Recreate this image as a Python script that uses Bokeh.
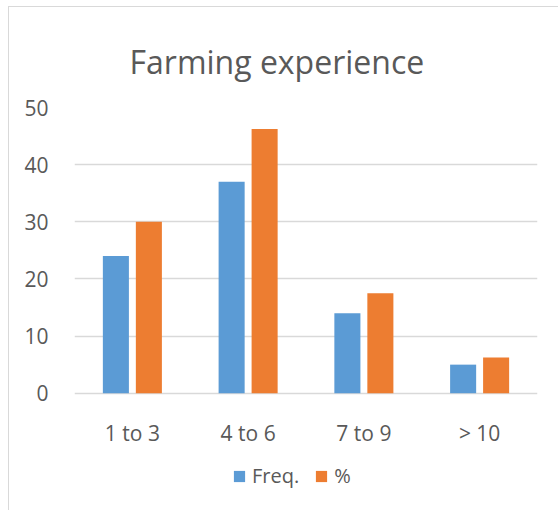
from bokeh.plotting import figure
from bokeh.models import ColumnDataSource, FactorRange, Range1d, Legend, LegendItem, FixedTicker
from bokeh.transform import dodge
from bokeh.core.properties import value
from bokeh.embed import file_html
from bokeh.resources import INLINE

categories = ["1 to 3", "4 to 6", "7 to 9", "> 10"]
freq = [24, 37, 14, 5]
pct = [30, 46.25, 17.5, 6.25]
y_ticks = [0, 10, 20, 30, 40, 50]

src = ColumnDataSource(data=dict(cat=categories, freq=freq, pct=pct))

FONT = "Open Sans"
TXT = "#595959"
GRID = "#D9D9D9"

# frame extends below the zero line so the category labels and legend sit inside it
p = figure(width=550, height=504, x_range=FactorRange(*categories, range_padding=0),
           y_range=Range1d(-20.7, 50), output_backend="svg", toolbar_location=None,
           x_axis_location=None,
           min_border_left=65, min_border_right=22, min_border_top=100, min_border_bottom=0)
p.margin = (6, 0, 0, 8)
p.styles = {"border-top": "1px solid #D9D9D9", "border-left": "1px solid #D9D9D9"}

p.title.text = "Farming experience"
p.title.text_font = FONT
p.title.text_font_size = "32px"
p.title.text_font_style = "normal"
p.title.text_color = TXT
p.title.align = "left"
p.title.offset = 55
p.title.standoff = 49

r1 = p.vbar(x=dodge("cat", -0.1425, range=p.x_range), top="freq", width=0.225,
            source=src, fill_color="#5B9BD5", line_color=None)
r2 = p.vbar(x=dodge("cat", 0.1425, range=p.x_range), top="pct", width=0.225,
            source=src, fill_color="#ED7D31", line_color=None)

# category labels
p.text(x="cat", y=-6.88, text="cat", source=src, text_font=value(FONT),
       text_font_size="21px", text_color=TXT, text_align="center",
       text_baseline="alphabetic")

p.outline_line_color = None
p.xgrid.grid_line_color = None
p.ygrid.grid_line_color = GRID
p.ygrid.grid_line_width = 1.3
p.yaxis.ticker = FixedTicker(ticks=y_ticks)

ax = p.yaxis[0]
ax.axis_line_color = None
ax.major_tick_line_color = None
ax.minor_tick_line_color = None
ax.major_label_text_font = FONT
ax.major_label_text_font_size = "21px"
ax.major_label_text_color = TXT
ax.major_label_standoff = 20

legend = Legend(items=[LegendItem(label="Freq.", renderers=[r1]),
                       LegendItem(label="%", renderers=[r2])],
                orientation="horizontal", location=(158, 22),
                label_text_font=FONT, label_text_font_size="20px", label_text_color=TXT,
                glyph_width=14, glyph_height=14, label_height=14, label_standoff=6,
                spacing=15, padding=0, margin=0, border_line_color=None,
                background_fill_alpha=0)
p.add_layout(legend, "center")

open("out.html", "w").write(file_html(p, INLINE))
